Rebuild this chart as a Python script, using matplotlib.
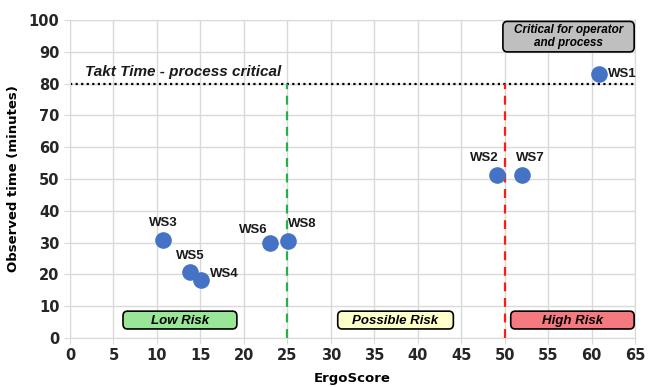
import matplotlib.pyplot as plt
from matplotlib.patches import FancyBboxPatch

# workstation data
labels = ['WS1', 'WS2', 'WS3', 'WS4', 'WS5', 'WS6', 'WS7', 'WS8']
ergo = [60.8, 49.1, 10.7, 15.1, 13.8, 23.0, 52.0, 25.1]
observed = [83.0, 51.3, 30.8, 18.2, 20.7, 29.9, 51.3, 30.5]
# label offsets in points (dx, dy)
offsets = [(7, 0), (1, 12), (0, 12), (6, 4), (0, 11.5), (-2, 9.5), (-4, 12), (0, 12)]
ha_list = ['left', 'right', 'center', 'left', 'center', 'right', 'left', 'left']

takt = 80
low_limit = 25
high_limit = 50

arial = 'Liberation Sans'

fig = plt.figure(figsize=(6.54, 3.87), dpi=100)
ax = fig.add_axes([0.107, 0.127, 0.864, 0.821])

ax.set_xlim(0, 65)
ax.set_ylim(0, 100)
ax.set_xticks(range(0, 66, 5))
ax.set_yticks(range(0, 101, 10))
ax.grid(True, color='#d9d9d9', linewidth=1)
ax.set_axisbelow(True)
for s in ax.spines.values():
    s.set_color('#d9d9d9')
ax.tick_params(length=4, color='#d9d9d9', labelsize=10.5)
for t in ax.get_xticklabels() + ax.get_yticklabels():
    t.set_fontweight('bold')
    t.set_color('#262626')

ax.set_xlabel('ErgoScore', fontsize=9.5, fontweight='bold', labelpad=6)
ax.set_ylabel('Observed time (minutes)', fontsize=9.5, fontweight='bold', labelpad=6)

# reference lines
ax.axhline(takt, color='black', linestyle=(0, (1, 1.5)), linewidth=1.6, zorder=2)
ax.plot([low_limit, low_limit], [0, takt], color='#22b14c', linestyle=(0, (4, 3)), linewidth=1.6, zorder=2)
ax.plot([high_limit, high_limit], [0, takt], color='#ff1a1a', linestyle=(0, (4, 3)), linewidth=1.6, zorder=2)

ax.text(1.7, 81.5, 'Takt Time - process critical', fontsize=11, fontweight='bold',
        style='italic', ha='left', va='bottom', color='#1a1a1a', family=arial)

ax.scatter(ergo, observed, s=120, color='#4472c4', zorder=4, clip_on=False)
for i in range(len(labels)):
    ax.annotate(labels[i], (ergo[i], observed[i]), xytext=offsets[i], textcoords='offset points',
                ha=ha_list[i], va='center', fontsize=9.5, fontweight='bold', color='#1a1a1a',
                family=arial)

# risk zone boxes
boxes = [
    (6.1, 2.8, 13.1, 5.6, '#99e699', 'Low Risk'),
    (30.8, 2.8, 13.3, 5.6, '#ffffcc', 'Possible Risk'),
    (50.7, 2.8, 14.2, 5.6, '#f47a80', 'High Risk'),
]
for x0, y0, w, h, c, txt in boxes:
    p = FancyBboxPatch((x0, y0), w, h, boxstyle='round,pad=0,rounding_size=0.5',
                       facecolor=c, edgecolor='black', linewidth=1.2, zorder=3,
                       mutation_aspect=3)
    ax.add_patch(p)
    ax.text(x0 + w / 2, y0 + h / 2 - 0.3, txt, ha='center', va='center', fontsize=9.5,
            fontweight='bold', style='italic', zorder=5, family=arial)

p = FancyBboxPatch((49.8, 90.0), 15.1, 9.6, boxstyle='round,pad=0,rounding_size=0.5',
                   facecolor='#bfbfbf', edgecolor='black', linewidth=1.2, zorder=3,
                   mutation_aspect=3, clip_on=False)
ax.add_patch(p)
ax.text(57.35, 94.8, 'Critical for operator\nand process', ha='center', va='center',
        fontsize=8.5, fontweight='bold', style='italic', linespacing=1.05, zorder=5,
        family=arial)

fig.savefig('out.png', dpi=100)
